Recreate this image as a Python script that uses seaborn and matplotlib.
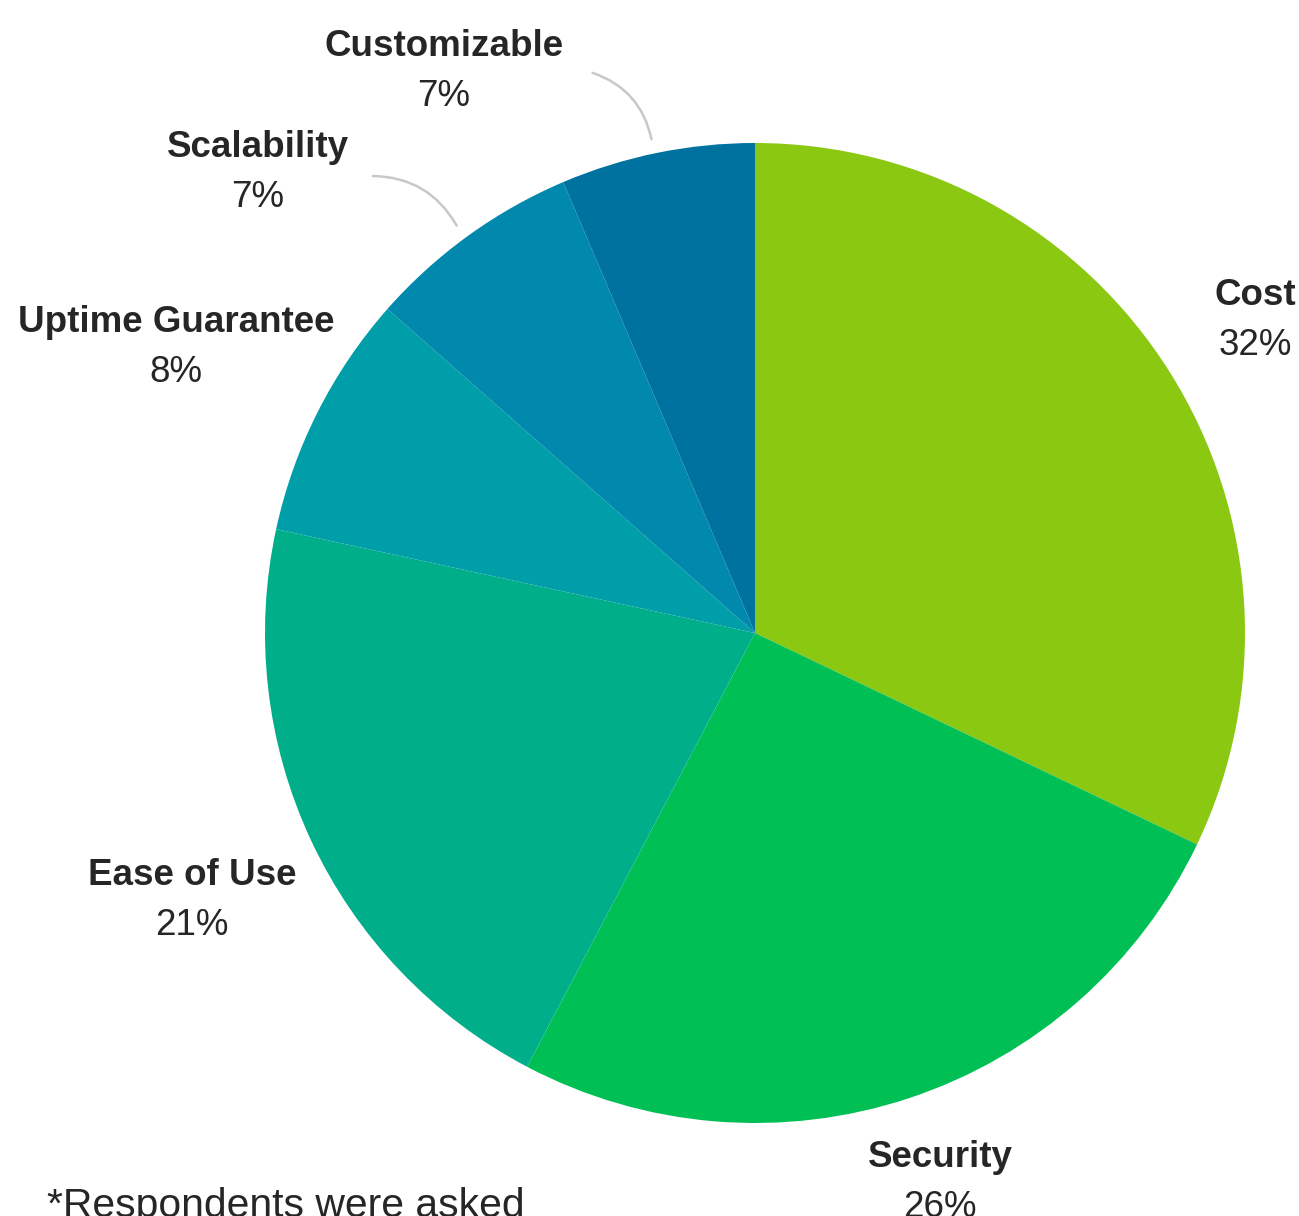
import matplotlib
matplotlib.use("Agg")
import matplotlib.pyplot as plt
import seaborn as sns
from matplotlib.patches import FancyArrowPatch

# ---- data ----
categories = ["Cost", "Security", "Ease of Use", "Uptime Guarantee", "Scalability", "Customizable"]
values = [32.1, 25.6, 20.7, 8.1, 7.1, 6.4]
pct_labels = ["32%", "26%", "21%", "8%", "7%", "7%"]
colors = ["#8AC812", "#00BF55", "#00AF8A", "#009EA8", "#0088AD", "#0072A0"]
footnote = "*Respondents were asked"

sns.set_theme(style="white")
plt.rcParams['font.family'] = ['Liberation Sans', 'DejaVu Sans']

W, H = 1299, 1216
fig = plt.figure(figsize=(W / 100, H / 100), dpi=100)
ax = fig.add_axes([0, 0, 1, 1])

def Y(py):
    return H - py

cx, cy, r = 755, 633, 490
ax.pie(values, colors=sns.color_palette(colors), startangle=90, counterclock=False,
       center=(cx, Y(cy)), radius=r, wedgeprops=dict(linewidth=0, antialiased=True),
       frame=True)
ax.set_xlim(0, W)
ax.set_ylim(0, H)
ax.axis("off")

# label placement (center x, name baseline y) in pixels
label_pos = {
    "Cost": (1255, 305),
    "Security": (940, 1167),
    "Ease of Use": (192, 885),
    "Uptime Guarantee": (176, 332),
    "Scalability": (258, 157),
    "Customizable": (444, 56),
}
txt_color = "#262626"
fs = 26.5
for cat, pct in zip(categories, pct_labels):
    x, yb = label_pos[cat]
    ax.text(x, Y(yb), cat, ha="center", va="baseline", fontsize=fs,
            fontweight="bold", color=txt_color)
    ax.text(x, Y(yb + 50), pct, ha="center", va="baseline", fontsize=fs,
            color=txt_color)

# leader lines
for (x0, y0), (x1, y1) in [((370, 176), (458, 228)), ((590, 72), (652, 142))]:
    p = FancyArrowPatch((x0, Y(y0)), (x1, Y(y1)), arrowstyle="-",
                        connectionstyle="arc3,rad=-0.3", color="#c8c8c8", lw=1.8)
    ax.add_patch(p)

ax.text(47, Y(1217), footnote, ha="left", va="baseline", fontsize=29.4, color=txt_color)

fig.savefig("out.png", dpi=100)
